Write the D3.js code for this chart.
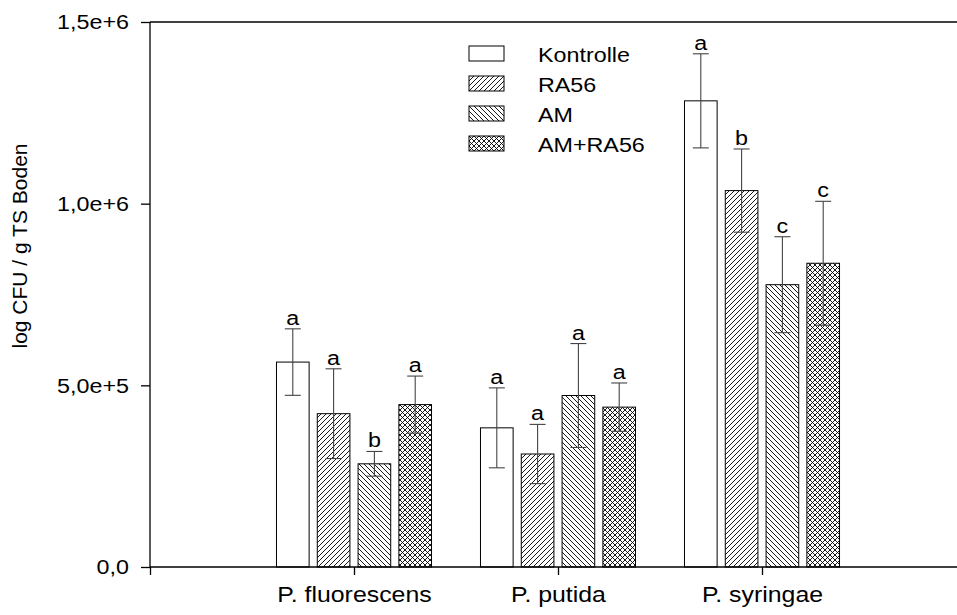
<!DOCTYPE html>
<html><head><meta charset="utf-8">
<script src="https://cdn.jsdelivr.net/npm/d3@7"></script>
<style>
body{margin:0;background:#fff}
svg{display:block}
text{font-family:"Liberation Sans",Arial,sans-serif;fill:#000}
</style></head>
<body><svg id="c" width="957" height="615"></svg>
<script>
// ---- data ----
const categories = ["P. fluorescens", "P. putida", "P. syringae"];
const seriesNames = ["Kontrolle", "RA56", "AM", "AM+RA56"];
const kontrolle    = [564000, 383000, 1283000];
const kontrolleErr = [91500, 110000, 129500];
const ra56         = [422000, 311000, 1036000];
const ra56Err      = [123500, 81500, 114500];
const am           = [284000, 472000, 777000];
const amErr        = [34000, 143000, 132000];
const amRa56       = [447000, 440000, 836000];
const amRa56Err    = [78500, 66500, 170500];
const kontrolleLetters = ["a", "a", "a"];
const ra56Letters      = ["a", "a", "b"];
const amLetters        = ["b", "a", "c"];
const amRa56Letters    = ["a", "a", "c"];
const yTickValues = [0, 500000, 1000000, 1500000];
const yTickLabels = ["0,0", "5,0e+5", "1,0e+6", "1,5e+6"];
const yTitle = "log CFU / g TS Boden";

const values = [kontrolle, ra56, am, amRa56];
const errors = [kontrolleErr, ra56Err, amErr, amRa56Err];
const letters = [kontrolleLetters, ra56Letters, amLetters, amRa56Letters];
const patterns = ["none", "fwd", "back", "cross"];

const svg = d3.select("#c");
const FS = 21;
const SX = 1.11;

// place a text at (px,py) with horizontal stretch
function stretch(sel, sx) {
  sel.each(function () {
    const t = d3.select(this);
    const px = +t.attr("x") || 0, py = +t.attr("y") || 0;
    t.attr("x", 0).attr("y", 0).attr("transform", `translate(${px},${py}) scale(${sx},1)`);
  });
}

const x = d3.scaleLinear().domain([0, 4]).range([150, 966]);
const y = d3.scaleLinear().domain([0, 1500000]).range([567, 22]);

// patterns
const defs = svg.append("defs");
const P = 5;
function mkPattern(id, d) {
  const p = defs.append("pattern").attr("id", id).attr("patternUnits", "userSpaceOnUse")
    .attr("width", P).attr("height", P);
  p.append("rect").attr("width", P).attr("height", P).attr("fill", "#fff");
  p.append("path").attr("d", d).attr("stroke", "#000").attr("stroke-width", 0.9).attr("fill", "none");
}
mkPattern("fwd", `M-1,1 L1,-1 M0,${P} L${P},0 M${P-1},${P+1} L${P+1},${P-1}`);
mkPattern("back", `M-1,${P-1} L1,${P+1} M0,0 L${P},${P} M${P-1},-1 L${P+1},1`);
mkPattern("cross", `M-1,1 L1,-1 M0,${P} L${P},0 M${P-1},${P+1} L${P+1},${P-1} M-1,${P-1} L1,${P+1} M0,0 L${P},${P} M${P-1},-1 L${P+1},1`);
const fillFor = k => patterns[k] === "none" ? "#fff" : `url(#${patterns[k]})`;

// bars
const offsets = [-0.3, -0.1, 0.1, 0.3];
const bw = 0.16;
const bars = svg.append("g");
seriesNames.forEach((s, k) => {
  categories.forEach((c, i) => {
    const cx = i + 1 + offsets[k];
    const x0 = x(cx - bw / 2), x1 = x(cx + bw / 2);
    const v = values[k][i], e = errors[k][i];
    bars.append("rect")
      .attr("x", x0).attr("y", y(v))
      .attr("width", x1 - x0).attr("height", y(0) - y(v))
      .attr("fill", fillFor(k)).attr("stroke", "#000").attr("stroke-width", 1);
    const xc = x(cx);
    const capHalf = 8;
    const eg = bars.append("g").attr("stroke", "#444").attr("stroke-width", 1.1);
    eg.append("line").attr("x1", xc).attr("x2", xc).attr("y1", y(v + e)).attr("y2", y(v - e));
    eg.append("line").attr("x1", xc - capHalf).attr("x2", xc + capHalf).attr("y1", y(v + e)).attr("y2", y(v + e));
    eg.append("line").attr("x1", xc - capHalf).attr("x2", xc + capHalf).attr("y1", y(v - e)).attr("y2", y(v - e));
    const lt = bars.append("text").attr("x", xc).attr("y", y(v + e) - 4)
      .attr("text-anchor", "middle").attr("font-size", FS).text(letters[k][i]);
    stretch(lt, SX);
  });
});

// axes
const yAxis = d3.axisLeft(y).tickValues(yTickValues).tickSize(9).tickPadding(12)
  .tickFormat((d, i) => yTickLabels[i]);
const gy = svg.append("g").attr("transform", `translate(${x(0)},0)`).call(yAxis);
gy.select(".domain").attr("d", `M0,${y(0)}V${y(1500000)}`);
gy.selectAll("text").attr("font-size", FS).attr("font-family", '"Liberation Sans",Arial,sans-serif')
  .call(stretch, SX);

const xAxis = d3.axisBottom(x).tickValues([0, 1, 2, 3, 4]).tickSize(8).tickPadding(11)
  .tickFormat(d => categories[d - 1] || "");
const gx = svg.append("g").attr("transform", `translate(0,${y(0)})`).call(xAxis);
gx.select(".domain").attr("d", `M${x(0)},0H${x(4)}`);
gx.selectAll("text").attr("font-size", 22).attr("font-family", '"Liberation Sans",Arial,sans-serif')
  .call(stretch, 1.13);
svg.selectAll(".domain, .tick line").attr("stroke", "#000").attr("stroke-width", 1.3);

// top frame line
svg.append("line").attr("x1", x(0)).attr("x2", x(4)).attr("y1", y(1500000)).attr("y2", y(1500000))
  .attr("stroke", "#000").attr("stroke-width", 1.3);

// y title
svg.append("text").attr("transform", `translate(27,246) rotate(-90)`)
  .attr("text-anchor", "middle").attr("font-size", FS).text(yTitle);

// legend
const lg = svg.append("g").attr("transform", "translate(469,46)");
seriesNames.forEach((s, k) => {
  const r = lg.append("g").attr("transform", `translate(0,${k * 30})`);
  r.append("rect").attr("width", 35).attr("height", 15).attr("fill", fillFor(k))
    .attr("stroke", "#000").attr("stroke-width", 1);
  const t = r.append("text").attr("x", 69).attr("y", 16).attr("font-size", FS).text(s);
  stretch(t, SX);
});
</script>
</body></html>
